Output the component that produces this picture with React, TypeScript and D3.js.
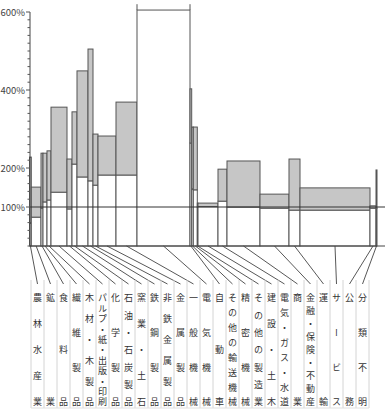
import React from "react";
import * as d3 from "d3";

const categories = [
  "農林水産業", "鉱業", "食料品", "繊維製品", "木材・木製品", "パルプ・紙・出版・印刷",
  "化学製品", "石油・石炭製品", "窯業・土石", "鉄鋼製品", "非鉄金属製品", "金属製品",
  "一般機械", "電気機械", "自動車", "その他の輸送機械", "精密機械", "その他の製造業",
  "建設・土木", "電気・ガス・水道", "商業", "金融・保険・不動産", "運輸", "サービス",
  "公務", "分類不明",
];
const widths = [1.8, 9.7, 2, 4, 4, 16, 5, 5, 11, 5, 5, 18, 21, 53, 1.7, 1.6, 4, 0.7, 20, 9, 33, 29, 11, 70, 6, 1];
const lowValues = [59, 74, 97, 113, 118, 138, 95, 210, 177, 167, 156, 182, 182, 605, 264, 146, 144, 100, 101, 115, 100, 97, 92, 92, 97, 97];
const highValues = [228, 151, 238, 238, 244, 356, 223, 344, 449, 505, 287, 282, 369, 660, 403, 305, 305, 110, 110, 197, 218, 133, 223, 149, 103, 195];
const tickLabels = [600, 400, 200, 100];

const W = 389, H = 416;
const left = 29.5, right = 377, axisEnd = 385;
const baseY = 246;
const yMaxPlot = 620;

export default function App() {
  const total = d3.sum(widths);
  const x = d3.scaleLinear().domain([0, total]).range([left, right]);
  const y = d3.scaleLinear().domain([0, 600]).range([baseY, 12]);
  const cum = d3.cumsum(widths);
  const starts = widths.map((w, i) => (i === 0 ? 0 : cum[i - 1]));
  const band = d3.scaleBand().domain(categories).range([31, 31 + 13 * categories.length]);
  const minor = d3.range(0, 601, 20);
  const stroke = "#555";
  const topY = y(yMaxPlot);
  const fs = 9;
  const firstC = 298, lastC = 402;

  return (
    <svg width={W} height={H} style={{ position: "absolute", left: 0, top: 0, background: "#fff" }}
      fontFamily="'Noto Sans CJK JP', sans-serif">
      {categories.map((c, i) => {
        const x0 = x(starts[i]);
        const x1 = x(cum[i]);
        const lo = lowValues[i];
        const hi = highValues[i];
        const clipped = hi > yMaxPlot;
        const yHi = clipped ? topY : y(hi);
        return (
          <g key={c}>
            <rect x={x0} y={y(lo)} width={x1 - x0} height={baseY - y(lo)} fill="#fff" stroke={stroke} strokeWidth={1} />
            {clipped ? (
              <g>
                <line x1={x0} x2={x0} y1={y(lo)} y2={yHi} stroke={stroke} />
                <line x1={x1} x2={x1} y1={y(lo)} y2={yHi} stroke={stroke} />
              </g>
            ) : (
              <rect x={x0} y={yHi} width={x1 - x0} height={y(lo) - yHi} fill="#c6c6c6" stroke={stroke} strokeWidth={1} />
            )}
          </g>
        );
      })}
      <line x1={30} x2={axisEnd} y1={baseY} y2={baseY} stroke="#444" />
      <line x1={30} x2={axisEnd} y1={y(100)} y2={y(100)} stroke="#333" />
      <line x1={30} x2={30} y1={baseY} y2={y(600)} stroke="#444" />
      {minor.map((v) => (
        <line key={v} x1={tickLabels.includes(v) ? 26 : 27.5} x2={30} y1={y(v)} y2={y(v)} stroke="#555" />
      ))}
      {tickLabels.map((v) => (
        <text key={v} x={25} y={y(v)} textAnchor="end" dominantBaseline="central" fontSize={9.5} fill="#444">
          {v}%
        </text>
      ))}
      {categories.map((c, i) => {
        const cx = (x(starts[i]) + x(cum[i])) / 2;
        const lx = (band(c) as number) + band.bandwidth() / 2;
        return <line key={c} x1={cx} y1={baseY} x2={lx} y2={284} stroke="#444" strokeWidth={0.9} />;
      })}
      {d3.range(categories.length + 1).map((k) => (
        <line key={k} x1={31 + 13 * k} x2={31 + 13 * k} y1={280} y2={408} stroke="#d4d4d4" />
      ))}
      <line x1={31} x2={31 + 13 * categories.length} y1={408} y2={408} stroke="#e0e0e0" />
      {categories.map((c) => {
        const chars = Array.from(c);
        const n = chars.length;
        const cx = (band(c) as number) + band.bandwidth() / 2;
        const step = (lastC - firstC) / (n - 1);
        return (
          <text key={c} x={cx} y={firstC - fs / 2} fontSize={fs} fill="#333"
            style={{ writingMode: "vertical-rl" } as any}>
            {chars.map((ch, k) => (
              <tspan key={k} x={cx} y={firstC + k * step - fs / 2}>{ch}</tspan>
            ))}
          </text>
        );
      })}
    </svg>
  );
}
